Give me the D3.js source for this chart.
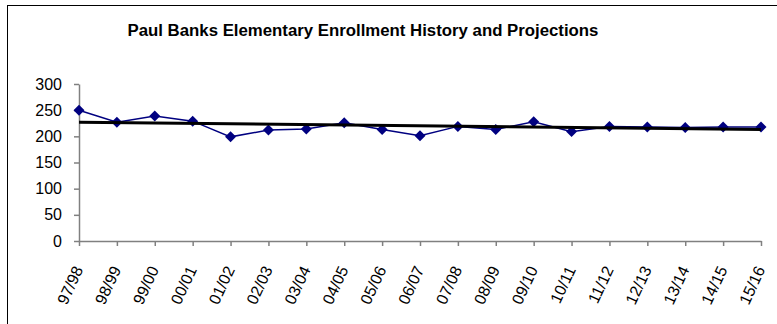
<!DOCTYPE html>
<html><head><meta charset="utf-8">
<script src="https://cdn.jsdelivr.net/npm/d3@7"></script>
<style>html,body{margin:0;padding:0;background:#fff;}svg{display:block;}</style>
</head><body>
<script>
const title = "Paul Banks Elementary Enrollment History and Projections";
const years = ["97/98","98/99","99/00","00/01","01/02","02/03","03/04","04/05","05/06","06/07","07/08","08/09","09/10","10/11","11/12","12/13","13/14","14/15","15/16"];
const enrollment = [250,227,239,229,199,212,214,226,213,201,219,213,228,209,219,218,217,218,218];
const trendEnds = [227,213];
const yTicks = [0,50,100,150,200,250,300];

const W = 777, H = 324;
const svg = d3.select("body").append("svg").attr("width",W).attr("height",H);
const font = "'Liberation Sans', Arial, sans-serif";

svg.append("rect").attr("x",7.5).attr("y",5.5).attr("width",900).attr("height",600)
  .attr("fill","none").attr("stroke","#000").attr("stroke-width",1);

const x = d3.scalePoint().domain(years).range([79,761]);
const y = d3.scaleLinear().domain([0,300]).range([241,84]);

svg.append("text").attr("x",363).attr("y",36).attr("text-anchor","middle")
  .attr("font-family",font).attr("font-weight","bold").attr("font-size",16.8).text(title);

const yAxis = svg.append("g").attr("transform","translate(79,0)")
  .call(d3.axisLeft(y).tickValues(yTicks).tickSize(5).tickPadding(12).tickSizeOuter(0));
yAxis.select(".domain").attr("stroke","#808080").attr("stroke-width",1.5);
yAxis.selectAll(".tick line").attr("stroke","#808080").attr("stroke-width",1.5);
yAxis.selectAll("text").attr("font-family",font).attr("font-size",16).attr("fill","#000");

const xAxis = svg.append("g").attr("transform","translate(0,241)")
  .call(d3.axisBottom(x).tickSize(5).tickSizeOuter(0));
xAxis.select(".domain").attr("stroke","#808080").attr("stroke-width",1.5);
xAxis.selectAll(".tick line").attr("stroke","#808080").attr("stroke-width",1.5);
xAxis.selectAll("text").attr("font-family",font).attr("font-size",16).attr("fill","#000")
  .attr("text-anchor","end").attr("dy","0.35em")
  .attr("transform","translate(-1,26) rotate(-65)").attr("y",0).attr("x",0);

const line = d3.line().x((d,i)=>x(years[i])).y(d=>y(d));
svg.append("path").datum(enrollment).attr("d",line).attr("fill","none")
  .attr("stroke","#000080").attr("stroke-width",1.5);

svg.selectAll(".mk").data(enrollment).enter().append("path")
  .attr("d","M0,-5.5L5.5,0L0,5.5L-5.5,0Z")
  .attr("transform",(d,i)=>`translate(${x(years[i])},${y(d)})`)
  .attr("fill","#000080");

svg.append("line").attr("x1",x(years[0])).attr("x2",x(years[years.length-1]))
  .attr("y1",y(trendEnds[0])).attr("y2",y(trendEnds[1]))
  .attr("stroke","#000").attr("stroke-width",3);
</script>
</body></html>
